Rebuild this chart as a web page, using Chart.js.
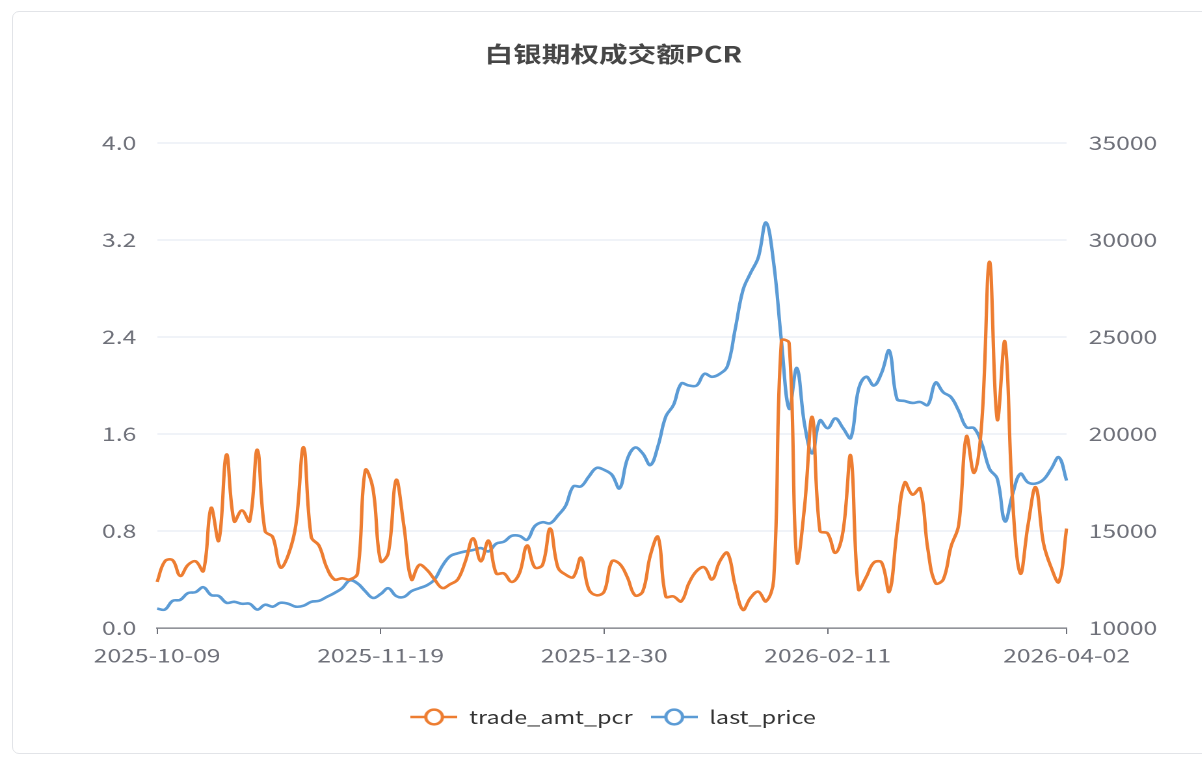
<!DOCTYPE html>
<html><head><meta charset="utf-8">
<script src="https://cdn.jsdelivr.net/npm/chart.js@4/dist/chart.umd.min.js"></script>
<style>
html,body{margin:0;padding:0;background:#fff;width:1202px;height:758px;overflow:hidden;}
#card{position:absolute;left:12px;top:11px;width:1230px;height:743px;border:1px solid #e2e4e8;border-radius:7px;box-sizing:border-box;}
#wrap{position:absolute;left:0;top:0;width:924.6px;height:758px;transform:scaleX(1.3);transform-origin:0 0;}
</style></head><body>
<div id="card"></div>
<div id="wrap"><canvas id="c"></canvas></div>
<script>
const dates = [
'2025-10-09','2025-10-10','2025-10-13','2025-10-14','2025-10-15','2025-10-16','2025-10-17',
'2025-10-20','2025-10-21','2025-10-22','2025-10-23','2025-10-24',
'2025-10-27','2025-10-28','2025-10-29','2025-10-30','2025-10-31',
'2025-11-03','2025-11-04','2025-11-05','2025-11-06','2025-11-07',
'2025-11-10','2025-11-11','2025-11-12','2025-11-13','2025-11-14',
'2025-11-17','2025-11-18','2025-11-19','2025-11-20','2025-11-21',
'2025-11-24','2025-11-25','2025-11-26','2025-11-27','2025-11-28',
'2025-12-01','2025-12-02','2025-12-03','2025-12-04','2025-12-05',
'2025-12-08','2025-12-09','2025-12-10','2025-12-11','2025-12-12',
'2025-12-15','2025-12-16','2025-12-17','2025-12-18','2025-12-19',
'2025-12-22','2025-12-23','2025-12-24','2025-12-25','2025-12-26',
'2025-12-29','2025-12-30','2025-12-31',
'2026-01-05','2026-01-06','2026-01-07','2026-01-08','2026-01-09',
'2026-01-12','2026-01-13','2026-01-14','2026-01-15','2026-01-16',
'2026-01-19','2026-01-20','2026-01-21','2026-01-22','2026-01-23',
'2026-01-26','2026-01-27','2026-01-28','2026-01-29','2026-01-30',
'2026-02-02','2026-02-03','2026-02-04','2026-02-05','2026-02-06',
'2026-02-09','2026-02-10','2026-02-11','2026-02-12','2026-02-13',
'2026-02-23','2026-02-24','2026-02-25','2026-02-26','2026-02-27',
'2026-03-02','2026-03-03','2026-03-04','2026-03-05','2026-03-06',
'2026-03-09','2026-03-10','2026-03-11','2026-03-12','2026-03-13',
'2026-03-16','2026-03-17','2026-03-18','2026-03-19','2026-03-20',
'2026-03-23','2026-03-24','2026-03-25','2026-03-26','2026-03-27',
'2026-03-30','2026-03-31','2026-04-01','2026-04-02'
];
const tradeAmtPcr = [
0.38,0.55,0.56,0.43,0.52,0.55,0.47,0.99,0.72,1.43,
0.88,0.97,0.88,1.47,0.80,0.75,0.50,0.60,0.85,1.49,
0.75,0.68,0.50,0.40,0.41,0.40,0.45,1.30,1.15,0.55,
0.62,1.22,0.85,0.40,0.52,0.48,0.40,0.33,0.36,0.40,
0.55,0.74,0.55,0.72,0.45,0.45,0.38,0.45,0.68,0.50,
0.52,0.82,0.50,0.44,0.42,0.58,0.32,0.27,0.30,0.55,
0.53,0.42,0.27,0.30,0.60,0.75,0.26,0.26,0.22,0.37,
0.47,0.50,0.40,0.55,0.62,0.35,0.15,0.25,0.30,0.22,
0.40,2.37,2.35,0.55,1.00,1.74,0.80,0.78,0.62,0.80,
1.42,0.32,0.42,0.54,0.54,0.30,0.80,1.20,1.10,1.15,
0.65,0.37,0.40,0.67,0.85,1.58,1.28,1.70,3.02,1.72,
2.36,1.05,0.45,0.85,1.16,0.70,0.50,0.38,0.82
];
const lastPrice = [
11000,10950,11400,11450,11800,11850,12100,11700,11650,11300,
11350,11250,11250,10950,11200,11100,11300,11250,11100,11150,
11350,11400,11600,11800,12050,12450,12300,11900,11550,11750,
12050,11650,11600,11900,12050,12200,12500,13200,13700,13850,
13950,14020,14120,13950,14350,14450,14750,14750,14550,15250,
15450,15400,15800,16300,17300,17300,17800,18250,18150,17900,
17200,18700,19300,19000,18400,19400,20900,21500,22600,22500,
22500,23100,22950,23100,23500,25400,27400,28300,29100,30900,
28800,24800,21300,23400,20500,19000,20700,20300,20800,20300,
19800,22300,22950,22500,23150,24300,21800,21700,21600,21650,
21500,22650,22150,21900,21200,20350,20300,19500,18200,17700,
15500,16900,17950,17500,17450,17650,18200,18800,17600
];
const shownDates = ['2025-10-09','2025-11-19','2025-12-30','2026-02-11','2026-04-02'];
const leftTicks = [0, 0.8, 1.6, 2.4, 3.2, 4.0];
const rightTicks = [10000, 15000, 20000, 25000, 30000, 35000];
const seriesNames = ['trade_amt_pcr', 'last_price'];
const seriesColors = ['#ED7D31', '#5B9BD5'];

const FONT = '"Noto Sans CJK SC", "Noto Sans", sans-serif';
const TICK_COLOR = '#6E7079';

function makeIcon(color) {
  const s = 2, w = 36, h = 18;
  const cv = document.createElement('canvas');
  cv.width = w * s; cv.height = h * s;
  const g = cv.getContext('2d');
  g.scale(s, s);
  g.strokeStyle = color; g.lineWidth = 2.5;
  g.beginPath(); g.moveTo(0, h / 2); g.lineTo(w, h / 2); g.stroke();
  g.beginPath(); g.ellipse(w / 2, h / 2, 6.4, 7.4, 0, 0, Math.PI * 2);
  g.fillStyle = '#fff'; g.fill(); g.stroke();
  return new Promise(res => {
    const img = new Image();
    img.onload = () => { img.width = w; img.height = h; res(img); };
    img.src = cv.toDataURL();
  });
}

Promise.all(seriesColors.map(makeIcon)).then(icons => {
  new Chart(document.getElementById('c'), {
    type: 'line',
    data: {
      labels: dates,
      datasets: [
        { label: seriesNames[0], data: tradeAmtPcr, yAxisID: 'yL', borderColor: seriesColors[0], backgroundColor: seriesColors[0], borderWidth: 2.6, pointRadius: 0, tension: 0.4 },
        { label: seriesNames[1], data: lastPrice, yAxisID: 'yR', borderColor: seriesColors[1], backgroundColor: seriesColors[1], borderWidth: 2.6, pointRadius: 0, tension: 0.4 }
      ]
    },
    options: {
      responsive: true,
      maintainAspectRatio: false,
      devicePixelRatio: 2,
      animation: false,
      layout: { padding: { left: 18.4, right: 0, top: 0, bottom: 22 } },
      plugins: {
        title: {
          display: true,
          text: '白银期权成交额PCR',
          color: '#464646',
          font: { family: FONT, size: 22, weight: 'bold' },
          padding: { top: 40.8, bottom: 75.8 }
        },
        legend: {
          display: true,
          position: 'bottom',
          labels: {
            color: '#333',
            font: { family: FONT, size: 18 },
            usePointStyle: true,
            pointStyleWidth: 36,
            padding: 14,
            generateLabels(chart) {
              const items = Chart.defaults.plugins.legend.labels.generateLabels(chart);
              items.forEach((it, i) => { it.pointStyle = icons[i]; });
              return items;
            }
          }
        },
        tooltip: { enabled: false }
      },
      scales: {
        x: {
          type: 'category',
          offset: false,
          grid: { drawOnChartArea: false, drawTicks: true, tickLength: 6, color: TICK_COLOR },
          border: { display: true, color: TICK_COLOR, width: 1.2 },
          ticks: { autoSkip: false, maxRotation: 0, minRotation: 0, padding: 10, color: TICK_COLOR, font: { family: FONT, size: 19 } },
          afterBuildTicks: s => { s.ticks = s.ticks.filter(t => shownDates.includes(dates[t.value])); },
          afterFit: s => { s.height = 66; }
        },
        yL: {
          position: 'left',
          min: leftTicks[0], max: leftTicks[leftTicks.length - 1],
          grid: { color: '#E0E6F1', drawTicks: false },
          border: { display: false },
          ticks: { padding: 16, color: TICK_COLOR, font: { family: FONT, size: 19 }, callback: v => Number(v).toFixed(1) },
          afterBuildTicks: s => { s.ticks = leftTicks.map(v => ({ value: v })); },
          afterFit: s => { s.width = 102.4; }
        },
        yR: {
          position: 'right',
          min: rightTicks[0], max: rightTicks[rightTicks.length - 1],
          grid: { drawOnChartArea: false, drawTicks: false },
          border: { display: false },
          ticks: { padding: 17, color: TICK_COLOR, font: { family: FONT, size: 19 }, callback: v => String(v) },
          afterBuildTicks: s => { s.ticks = rightTicks.map(v => ({ value: v })); },
          afterFit: s => { s.width = 104.6; }
        }
      }
    }
  });
});
</script>
</body></html>
